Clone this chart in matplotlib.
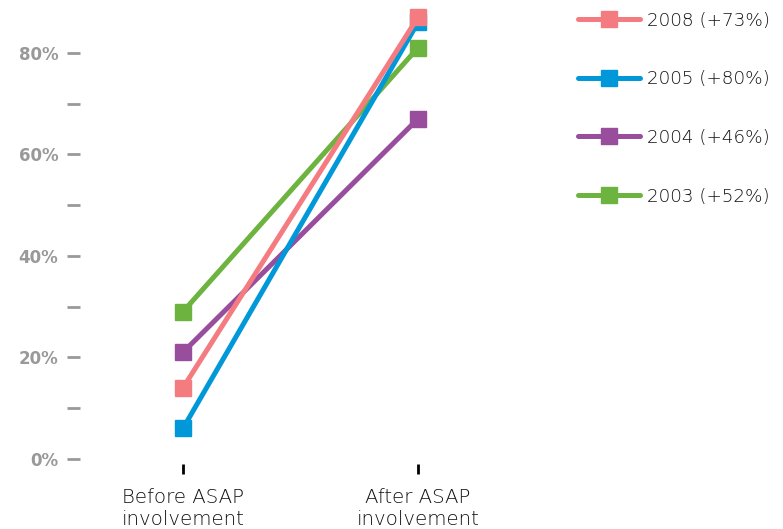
import matplotlib.pyplot as plt

stages = ['Before ASAP\ninvolvement', 'After ASAP\ninvolvement']
years = ['2008', '2005', '2004', '2003']
before = [14, 6, 21, 29]
after = [87, 86, 67, 81]
colors = ['#F47C80', '#0098D8', '#984D9D', '#6DB33F']

fig = plt.figure(figsize=(7.83, 5.29), dpi=100)
ax = fig.add_axes([80 / 783, 65 / 529, 480 / 783, 464 / 529])

x = [0, 1]
for i in range(len(years)):
    change = after[i] - before[i]
    ax.plot(x, [before[i], after[i]], color=colors[i], lw=3.6, marker='s',
            markersize=11.5, label=f'{years[i]} (+{change}%)',
            zorder=10 - i, solid_capstyle='round')

ax.set_xlim(-0.438, 1.604)
ax.set_ylim(-1, 90.4)
for s in ax.spines.values():
    s.set_visible(False)

ax.set_yticks(range(0, 90, 10))
ax.set_yticklabels([f'{v}%' if v % 20 == 0 else '' for v in range(0, 90, 10)])
ax.tick_params(axis='y', length=9.5, width=2, color='#999999', pad=6,
               labelcolor='#999999', labelsize=12)
for lbl in ax.get_yticklabels():
    lbl.set_fontweight('bold')
    lbl.set_family('DejaVu Sans')

ax.set_xticks(x)
ax.set_xticklabels(stages, family='DejaVu Sans', fontweight='light',
                   fontsize=14.2, linespacing=1.25, color='#111111')
ax.tick_params(axis='x', length=7, width=2, color='black', pad=10)

fig.legend(loc='upper left', bbox_to_anchor=(561 / 783, 1 + 5 / 529),
           frameon=False, handlelength=3.4, handletextpad=0.4,
           labelspacing=2.22, labelcolor='#111111',
           prop={'family': 'DejaVu Sans', 'weight': 'light', 'size': 13.2})

fig.savefig('out.png', dpi=100)
